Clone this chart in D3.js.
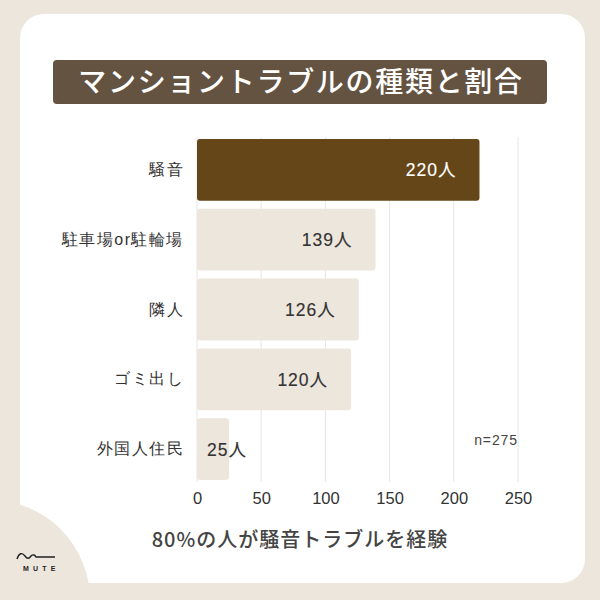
<!DOCTYPE html>
<html><head><meta charset="utf-8">
<script src="https://cdn.jsdelivr.net/npm/d3@7"></script>
<style>
html,body{margin:0;padding:0;background:#ede6dc;}
svg{display:block;font-family:"Liberation Sans","Noto Sans CJK JP",sans-serif;}
</style></head>
<body>
<svg id="chart" width="600" height="600"></svg>
<script>
const categories = ["騒音", "駐車場or駐輪場", "隣人", "ゴミ出し", "外国人住民"];
const values = [220, 139, 126, 120, 25];
const ticks = [0, 50, 100, 150, 200, 250];
const titleText = "マンショントラブルの種類と割合";
const subtitleText = "80%の人が騒音トラブルを経験";
const noteText = "n=275";
const unit = "人";

const svg = d3.select("#chart");
svg.append("rect").attr("width",600).attr("height",600).attr("fill","#ede6dc");
svg.append("rect").attr("x",20).attr("y",14).attr("width",565).attr("height",569).attr("rx",24).attr("fill","#ffffff");
svg.append("circle").attr("cx",-10).attr("cy",600).attr("r",100).attr("fill","#ede6dc");

// logo
svg.append("path").attr("d","M17,559 C19,553 22,552 25,556 C27,559 29,559 31,556 C33,554 35,555 36,557 L55,557")
  .attr("fill","none").attr("stroke","#222").attr("stroke-width",1.4);
svg.append("text").attr("x",23).attr("y",571).attr("font-size",7).attr("font-weight",700)
  .attr("letter-spacing",4.2).attr("fill","#222").text("MUTE");

// title
svg.append("rect").attr("x",53).attr("y",60).attr("width",494).attr("height",44).attr("rx",4).attr("fill","#655342");
svg.append("text").attr("x",301).attr("y",92).attr("text-anchor","middle").attr("font-size",28)
  .attr("letter-spacing",1.7).attr("font-family","Noto Sans CJK JP")
  .attr("font-weight",500).attr("fill","#ffffff").text(titleText);

const x = d3.scaleLinear().domain([0,250]).range([197,518]);
const y = d3.scaleBand().domain(categories).range([135,484]).paddingInner(0.115).paddingOuter(0.0575);

// grid
svg.append("g").selectAll("line").data(ticks).join("line")
  .attr("x1",d=>x(d)).attr("x2",d=>x(d)).attr("y1",137).attr("y2",482)
  .attr("stroke","#e6e6e6").attr("stroke-width",1);

// bars
const data = categories.map((c,i)=>({c, v: values[i], i}));
svg.append("g").selectAll("rect").data(data).join("rect")
  .attr("x",x(0)).attr("y",d=>y(d.c)).attr("width",d=>x(d.v)-x(0)).attr("height",y.bandwidth())
  .attr("rx",3).attr("fill",d=>d.i===0?"#654619":"#ede6dc");

// value labels
svg.append("g").selectAll("text").data(data).join("text")
  .attr("x",d=> d.v < 50 ? x(0)+10 : x(d.v)-23)
  .attr("text-anchor",d=> d.v < 50 ? "start" : "end")
  .attr("y",d=>y(d.c)+y.bandwidth()/2+6.5)
  .attr("font-size",17.5).attr("letter-spacing",1)
  .attr("fill",d=>d.i===0?"#ffffff":"#333333")
  .attr("stroke",d=>d.i===0?"#ffffff":"#333333").attr("stroke-width",0.15)
  .text(d=>d.v+unit);

// category labels
const yAxis = d3.axisLeft(y).tickSize(0).tickPadding(0);
const ya = svg.append("g").attr("transform","translate(184,0)").call(yAxis);
ya.select(".domain").remove();
ya.selectAll("text").attr("font-size",16).attr("letter-spacing",1.5).attr("fill","#333").attr("font-family",null);

// x axis ticks
const xAxis = d3.axisBottom(x).tickValues(ticks).tickSize(0).tickPadding(0);
const xa = svg.append("g").attr("transform","translate(0,492)").call(xAxis);
xa.select(".domain").remove();
xa.selectAll("text").attr("font-size",16.5).attr("fill","#333").attr("font-family",null);

// note
svg.append("text").attr("x",518).attr("y",445).attr("text-anchor","end").attr("font-size",14)
  .attr("letter-spacing",0.9).attr("fill","#444").text(noteText);

// subtitle
svg.append("text").attr("x",300).attr("y",547).attr("text-anchor","middle").attr("font-size",20)
  .attr("letter-spacing",1).attr("font-family","Noto Sans CJK JP")
  .attr("font-weight",500).attr("fill","#444").text(subtitleText);
</script>
</body></html>
